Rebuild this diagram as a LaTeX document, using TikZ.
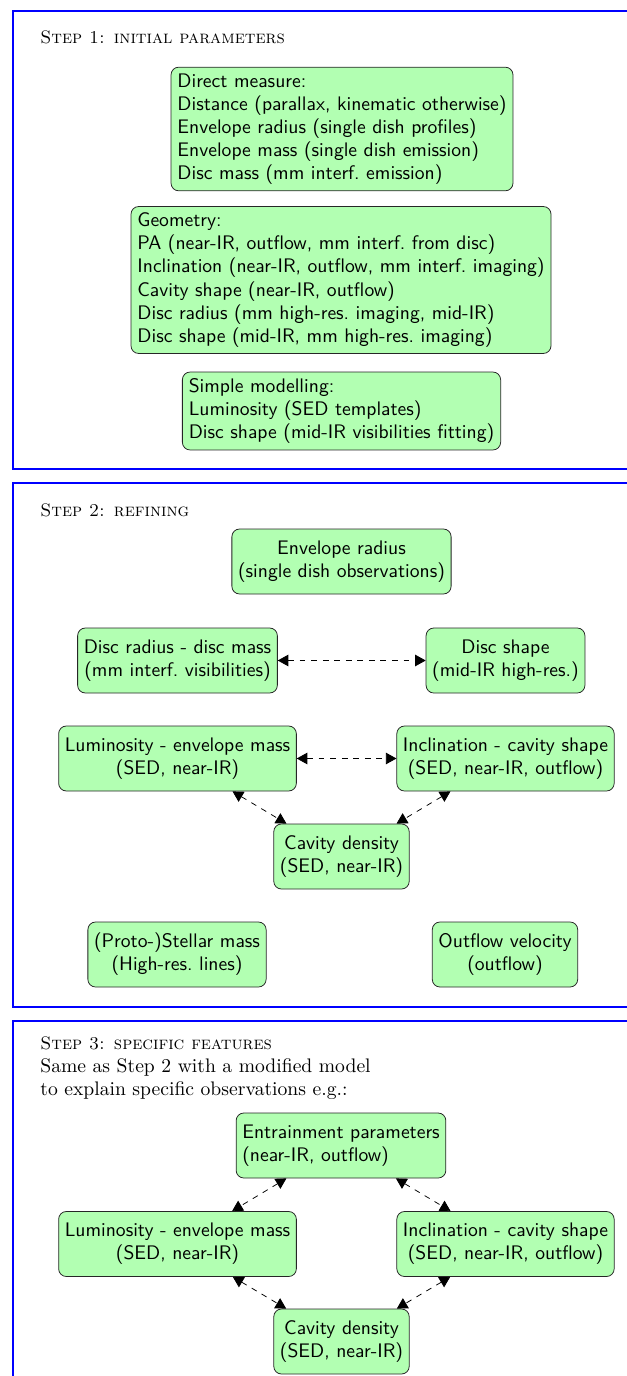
\documentclass[tikz,border=0pt]{standalone}
\usetikzlibrary{arrows.meta}
\begin{document}
\begin{tikzpicture}[x=0.52pt,y=-0.52pt,
  frame/.style={draw=blue, line width=1pt},
  boxA/.style={draw=black!85, fill=green!30, rounded corners=4pt, font=\sffamily\fontsize{10.2}{12}\selectfont, align=left},
  boxB/.style={draw=black!85, fill=green!30, rounded corners=4pt, font=\sffamily\fontsize{10.2}{12}\selectfont, align=center, inner xsep=3.2pt, minimum height=33.8pt},
  link/.style={dashed, {Triangle[length=5.5pt,width=6pt]}-{Triangle[length=5.5pt,width=6pt]}},
  title/.style={anchor=base west, inner sep=0pt, font=\fontsize{9.4}{12}\selectfont\scshape}]
\useasboundingbox (0,0) rectangle (627,1376);
% Step 1
\draw[frame] (13,11) rectangle (680,469);
\node[title] (t1) at (40,44) {Step 1: initial parameters};
\node[boxA] (direct) at (342,129) {Direct measure:\\Distance (parallax, kinematic otherwise)\\Envelope radius (single dish profiles)\\Envelope mass (single dish emission)\\Disc mass (mm interf.\ emission)};
\node[boxA] (geom) at (341,280) {Geometry:\\PA (near-IR, outflow, mm interf.\ from disc)\\Inclination (near-IR, outflow, mm interf.\ imaging)\\Cavity shape (near-IR, outflow)\\Disc radius (mm high-res.\ imaging, mid-IR)\\Disc shape (mid-IR, mm high-res.\ imaging)};
\node[boxA] (simple) at (341.5,411) {Simple modelling:\\Luminosity (SED templates)\\Disc shape (mid-IR visibilities fitting)};
% Step 2
\draw[frame] (13,483) rectangle (680,1007);
\node[title] (t2) at (40,516) {Step 2: refining};
\node[boxB] (envr) at (341.5,561.5) {Envelope radius\\(single dish observations)};
\node[boxB] (discr) at (177.5,660.5) {Disc radius - disc mass\\(mm interf.\ visibilities)};
\node[boxB] (discs) at (505.5,660.5) {Disc shape\\(mid-IR high-res.)};
\node[boxB] (lum2) at (177.5,758.5) {Luminosity - envelope mass\\(SED, near-IR)};
\node[boxB] (inc2) at (505.5,758.5) {Inclination - cavity shape\\(SED, near-IR, outflow)};
\node[boxB] (cav2) at (341.5,856.5) {Cavity density\\(SED, near-IR)};
\node[boxB] (star) at (177,954.5) {(Proto-)Stellar mass\\(High-res.\ lines)};
\node[boxB] (outv) at (505,954.5) {Outflow velocity\\(outflow)};
\draw[link] (discr) -- (discs);
\draw[link] (lum2) -- (inc2);
\draw[link] (lum2) -- (cav2);
\draw[link] (inc2) -- (cav2);
% Step 3
\draw[frame] (13,1021) rectangle (680,1420);
\node[anchor=north west, inner sep=0pt, align=left, font=\fontsize{10.2}{12}\selectfont] (t3) at (40,1036) {{\fontsize{9.4}{12}\selectfont\scshape Step 3: specific features}\\Same as Step 2 with a modified model\\to explain specific observations e.g.:};
\node[boxB, align=left] (entr) at (341,1145.5) {Entrainment parameters\\(near-IR, outflow)};
\node[boxB] (lum3) at (177.5,1244) {Luminosity - envelope mass\\(SED, near-IR)};
\node[boxB] (inc3) at (505.5,1244) {Inclination - cavity shape\\(SED, near-IR, outflow)};
\node[boxB] (cav3) at (341.5,1341.5) {Cavity density\\(SED, near-IR)};
\draw[link] (entr) -- (lum3);
\draw[link] (entr) -- (inc3);
\draw[link] (lum3) -- (cav3);
\draw[link] (inc3) -- (cav3);
\end{tikzpicture}
\end{document}
